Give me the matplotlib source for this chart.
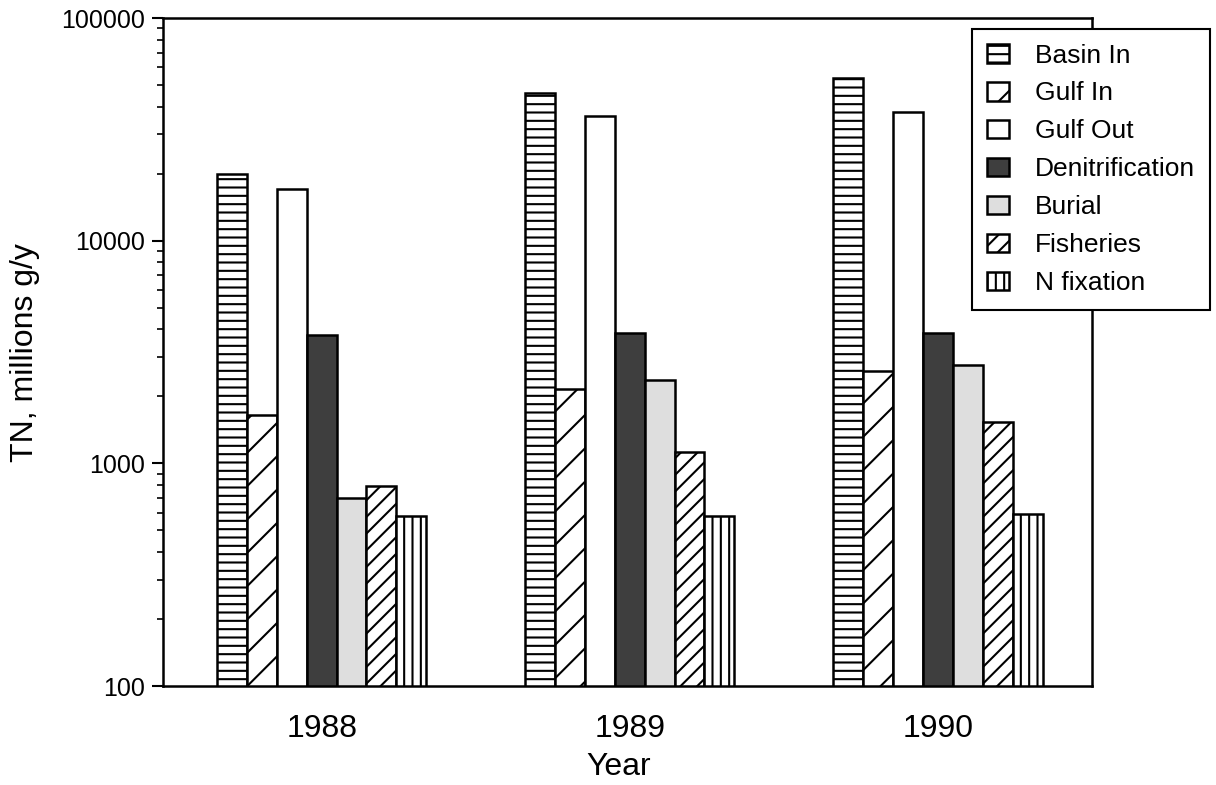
import numpy as np
import matplotlib.pyplot as plt

plt.rcParams['font.family'] = ['Liberation Sans', 'DejaVu Sans']
plt.rcParams['hatch.linewidth'] = 1.5

years = ['1988', '1989', '1990']
series = ['Basin In', 'Gulf In', 'Gulf Out', 'Denitrification', 'Burial', 'Fisheries', 'N fixation']

basin_in = [20000, 46000, 54000]
gulf_in = [1650, 2150, 2600]
gulf_out = [17000, 36500, 38000]
denitrification = [3780, 3850, 3850]
burial = [700, 2360, 2760]
fisheries = [790, 1120, 1530]
n_fixation = [580, 580, 590]

values = [basin_in, gulf_in, gulf_out, denitrification, burial, fisheries, n_fixation]
faces = ['white', 'white', 'white', '#3e3e3e', '#dedede', 'white', 'white']
hatches = ['--', '/', '', '', '', '//', '||']

fig = plt.figure(figsize=(12.16, 7.85), dpi=100)
ax = fig.add_axes([0.134, 0.126, 0.764, 0.851])

x = np.arange(len(years))
w = 0.097
for i, (name, vals) in enumerate(zip(series, values)):
    ax.bar(x + (i - 3) * w, vals, width=w, bottom=0, facecolor=faces[i],
           edgecolor='black', linewidth=1.8, hatch=hatches[i], label=name)

ax.set_yscale('log')
ax.set_ylim(100, 100000)
ax.set_xlim(-0.515, 2.5)
ax.set_xticks(x)
ax.set_xticklabels(years, fontsize=23)
ax.tick_params(axis='x', length=0, pad=20)
ax.tick_params(axis='y', which='major', direction='out', length=8, width=1.5, labelsize=18, pad=5)
ax.tick_params(axis='y', which='minor', direction='out', length=4, width=1.2)
ax.yaxis.set_major_formatter(plt.FuncFormatter(lambda v, p: '%d' % v))
ax.yaxis.set_minor_formatter(plt.NullFormatter())
for s in ax.spines.values():
    s.set_linewidth(1.8)

ax.set_xlabel('Year', fontsize=23)
ax.xaxis.set_label_coords(0.49, -0.098)
ax.set_ylabel('TN, millions g/y', fontsize=23)
ax.yaxis.set_label_coords(-0.132, 0.5)

leg = ax.legend(loc='upper left', bbox_to_anchor=(972 / 1216, 1 - 29 / 785),
                bbox_transform=fig.transFigure, borderaxespad=0, fancybox=False,
                fontsize=19, handlelength=0.85, handleheight=0.7, handletextpad=1.0,
                labelspacing=0.53, borderpad=0.55, framealpha=1)
leg.get_frame().set_edgecolor('black')
leg.get_frame().set_linewidth(1.5)

plt.savefig('out.png', dpi=100)
